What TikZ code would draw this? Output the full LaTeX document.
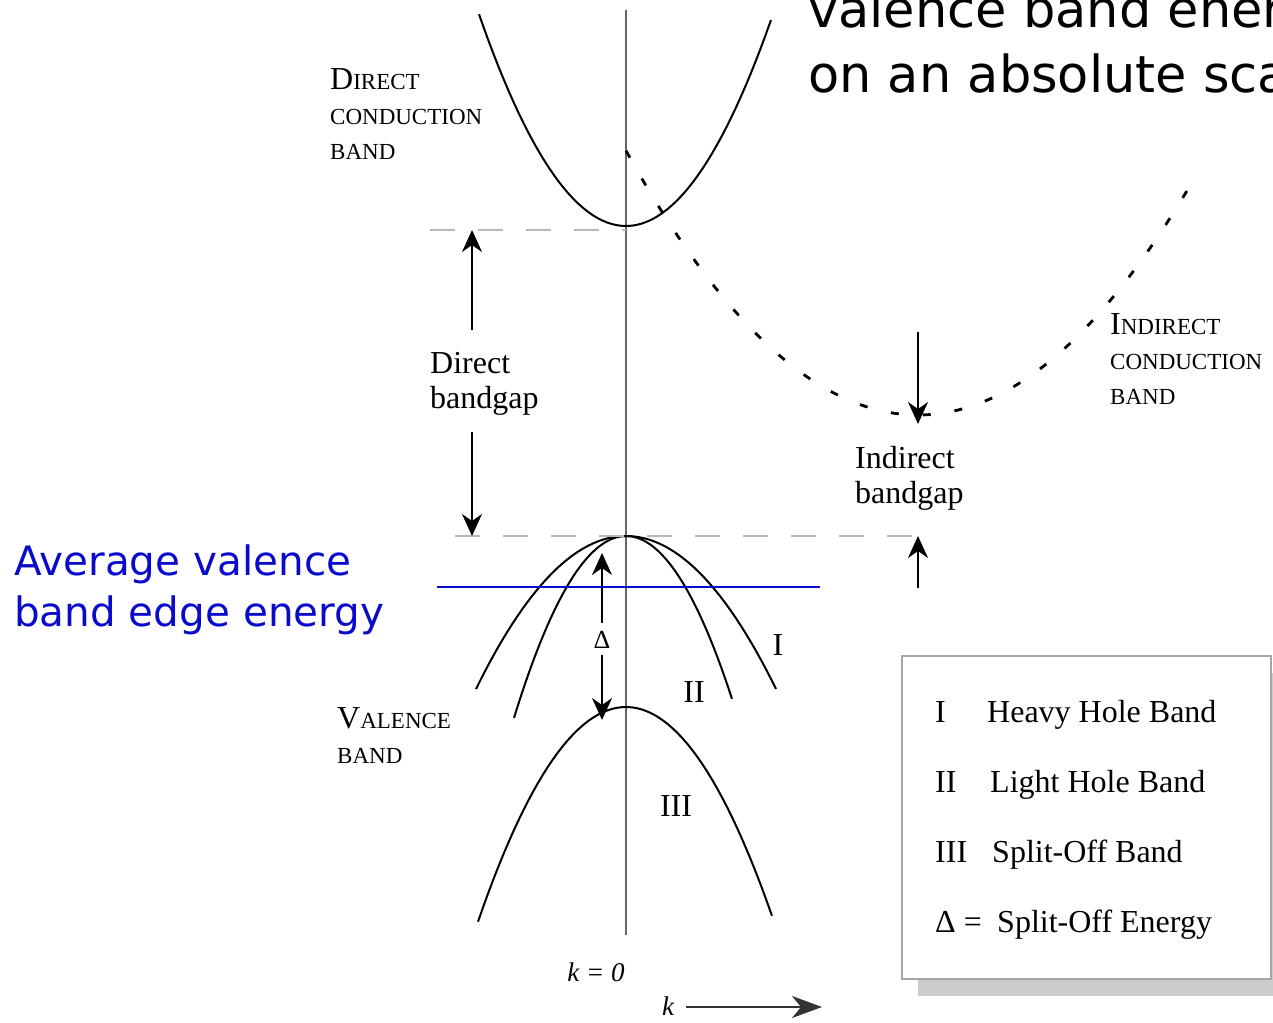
\documentclass[tikz,border=0pt]{standalone}
\usepackage{fontspec}
\setmainfont{Liberation Serif}
\newfontfamily\notefont{DejaVu Sans}
\usetikzlibrary{arrows.meta,positioning,shadows}
\definecolor{avgblue}{RGB}{10,10,205}
\newcommand{\smc}[1]{{\fontsize{23}{35}\selectfont #1}}

\tikzset{
  band/.style={line width=2pt},
  gapline/.style={gray!55,line width=2pt,dash pattern=on 25pt off 23pt},
  gaparrow/.style={->,line width=1.8pt},
  lbl/.style={inner sep=0pt,font=\fontsize{32}{35}\selectfont},
  sclbl/.style={lbl,align=left,anchor=north west},
  rowlbl/.style={lbl,anchor=base west},
  bluelbl/.style={inner sep=0pt,align=left,anchor=north west,text=avgblue,font=\notefont\fontsize{40.5}{51}\selectfont},
}

\begin{document}
\begin{tikzpicture}[x=1pt,y=-1pt,>={Stealth[length=22pt,width=20pt,inset=7pt]}]
  \useasboundingbox (0,0) rectangle (1273,1022);

  % k = 0 axis
  \coordinate (ktop) at (626,10);
  \coordinate (kbot) at (626,935);
  \draw[line width=2.8pt,black!60] (ktop) -- (kbot);

  % bands
  \draw[band] plot[domain=-1.47:1.45,samples=60] ({626+100*\x},{226-98*\x*\x});
  \draw[band,dash pattern=on 8pt off 24pt,line width=2.8pt] plot[domain=-2.92:2.77,samples=120] ({918+100*\x},{415-31*\x*\x});
  \draw[band] plot[domain=-1.5:1.5,samples=60] ({626+100*\x},{536+68*\x*\x});
  \draw[band] plot[domain=-1.12:1.06,samples=60] ({626+100*\x},{536+145*\x*\x});
  \draw[band] plot[domain=-1.48:1.46,samples=60] ({626+100*\x},{707+98*\x*\x});

  % band edges
  \coordinate (cbmin) at (626,230);
  \coordinate (vbmax) at (626,536);
  \coordinate (cbleft) at (430,230);
  \coordinate (vbleft) at (455,536);
  \coordinate (vbright) at (915,536);
  \draw[gapline] (cbleft) -- (cbmin);
  \draw[gapline] (vbleft) -- (vbright);

  % direct gap
  \node[sclbl] (dgap) at (430,352) {Direct\\bandgap};
  \coordinate (dup) at (472,330);
  \coordinate (ddn) at (472,432);
  \draw[gaparrow] (dup) -- (cbleft -| dup);
  \draw[gaparrow] (ddn) -- (vbleft -| ddn);

  % indirect gap
  \node[sclbl] (igap) at (855,446) {Indirect\\bandgap};
  \coordinate (iup) at (918,332);
  \coordinate (imin) at (918,424);
  \coordinate (idn) at (918,588);
  \draw[gaparrow] (iup) -- (imin);
  \draw[gaparrow] (idn) -- (vbright -| idn);

  % split-off energy
  \node[lbl,font=\fontsize{26}{28}\selectfont] (delta) at (602,640) {Δ};
  \coordinate (soup) at (602,553);
  \coordinate (sodn) at (602,720);
  \draw[gaparrow] (delta.north) ++(0,-8) -- (soup);
  \draw[gaparrow] (delta.south) ++(0,6) -- (sodn);

  % average valence band edge
  \coordinate (avgl) at (437,587);
  \coordinate (avgr) at (820,587);
  \draw[avgblue,line width=2pt] (avgl) -- (avgr);
  \node[bluelbl] (avg) at (14,545) {Average valence\\band edge energy};
  \node[bluelbl,text=black,font=\notefont\fontsize{51}{65}\selectfont] (note) at (808,-11) {valence band energy\\on an absolute scale};

  % band names
  \node[sclbl] (dcb) at (330,68) {D\smc{IRECT}\\\smc{CONDUCTION}\\\smc{BAND}};
  \node[sclbl] (icb) at (1110,313) {I\smc{NDIRECT}\\\smc{CONDUCTION}\\\smc{BAND}};
  \node[sclbl] (vb) at (337,707) {V\smc{ALENCE}\\\smc{BAND}};
  \node[lbl] (hh) at (778,645) {I};
  \node[lbl] (lh) at (694,692) {II};
  \node[lbl] (so) at (676,806) {III};

  % k axis
  \node[lbl,font=\itshape\fontsize{27}{30}\selectfont] (kzero) at (596,972) {k = 0};
  \node[lbl,font=\itshape\fontsize{27}{30}\selectfont] (klab) at (668,1006) {k};
  \coordinate (kend) at (822,1007);
  \draw[-{Stealth[length=30pt,width=22pt,inset=9pt]},line width=1.5pt,black!80] (klab.east) ++(12,1) -- (kend);

  % legend
  \node[draw=gray!70,line width=1.5pt,fill=white,minimum width=369pt,minimum height=323pt,anchor=north west,
        drop shadow={shadow xshift=16pt,shadow yshift=-17pt,fill=gray!40,opacity=1}] (legend) at (901,655) {};
  \node[rowlbl] (leg1) at (935,722) {I};
  \node[rowlbl] (leg1t) at (987,722) {Heavy Hole Band};
  \node[rowlbl] (leg2) at (935,792) {II};
  \node[rowlbl] (leg2t) at (990,792) {Light Hole Band};
  \node[rowlbl] (leg3) at (935,862) {III};
  \node[rowlbl] (leg3t) at (992,862) {Split-Off Band};
  \node[rowlbl] (leg4) at (935,932) {Δ =};
  \node[rowlbl] (leg4t) at (997,932) {Split-Off Energy};
\end{tikzpicture}
\end{document}
